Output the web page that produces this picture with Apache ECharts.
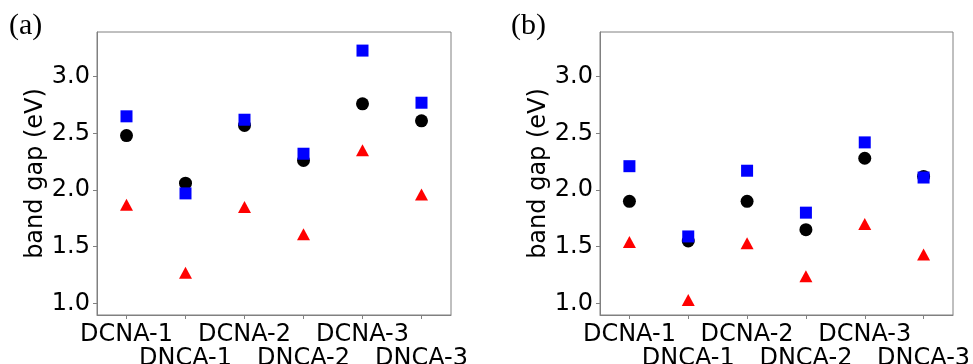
<!DOCTYPE html>
<html>
<head>
<meta charset="utf-8">
<script src="https://cdn.jsdelivr.net/npm/echarts@6/dist/echarts.min.js"></script>
<style>
html,body{margin:0;padding:0;background:#fff;}
#chart{width:973px;height:364px;}
</style>
</head>
<body>
<div id="chart"></div>
<script>
var categories = ['DCNA-1','DNCA-1','DCNA-2','DNCA-2','DCNA-3','DNCA-3'];
var yTicks = [1.0, 1.5, 2.0, 2.5, 3.0];
var panelLabels = ['(a)', '(b)'];
var yName = 'band gap (eV)';
// panel (a)
var aSquare   = [2.65, 1.97, 2.62, 2.32, 3.23, 2.77];
var aCircle   = [2.48, 2.06, 2.57, 2.26, 2.76, 2.61];
var aTriangle = [1.87, 1.27, 1.85, 1.61, 2.35, 1.96];
// panel (b)
var bSquare   = [2.21, 1.59, 2.17, 1.80, 2.42, 2.11];
var bCircle   = [1.90, 1.55, 1.90, 1.65, 2.28, 2.12];
var bTriangle = [1.54, 1.03, 1.53, 1.24, 1.70, 1.43];

var FONT = 'DejaVu Sans';
var FRAME = '#808080';
var grids = [
  {left: 97, top: 32, width: 354, height: 283},
  {left: 600, top: 32, width: 353, height: 283}
];

function xAxis(i){
  return {
    type: 'category', gridIndex: i, data: categories, boundaryGap: true,
    axisLine: {show: true, lineStyle: {color: FRAME, width: 1}},
    axisTick: {show: true, alignWithLabel: true, length: 4, interval: 0, lineStyle: {color: FRAME}},
    axisLabel: {
      interval: 0, margin: 8, color: '#000', fontFamily: FONT, fontSize: 24, lineHeight: 24,
      hideOverlap: false,
      formatter: function(v, idx){ return idx % 2 ? '\n' + v : v; }
    },
    splitLine: {show: false}
  };
}
function yAxis(i){
  return {
    type: 'value', gridIndex: i, min: 0.897, max: 3.394,
    name: yName, nameLocation: 'middle', nameGap: 48,
    nameTextStyle: {color: '#000', fontFamily: FONT, fontSize: 24},
    axisLine: {show: true, lineStyle: {color: FRAME, width: 1}},
    axisTick: {show: true, length: 4, lineStyle: {color: FRAME}, customValues: yTicks},
    axisLabel: {
      margin: 7, color: '#000', fontFamily: FONT, fontSize: 24, customValues: yTicks,
      formatter: function(v){ return v.toFixed(1); }
    },
    splitLine: {show: false}
  };
}
function ser(i, data, symbol, size, color){
  return {
    type: 'scatter', xAxisIndex: i, yAxisIndex: i,
    data: data.map(function(v, k){ return [categories[k], v]; }),
    symbol: symbol, symbolSize: size,
    itemStyle: {color: color, opacity: 1},
    emphasis: {disabled: true}, silent: true
  };
}

var chart = echarts.init(document.getElementById('chart'), null, {renderer: 'canvas'});
chart.setOption({
  animation: false,
  backgroundColor: '#fff',
  title: [
    {text: panelLabels[0], left: 9, top: 11, padding: 0,
     textStyle: {fontFamily: 'Liberation Serif', fontSize: 30, fontWeight: 'normal', color: '#000'}},
    {text: panelLabels[1], left: 511, top: 11, padding: 0,
     textStyle: {fontFamily: 'Liberation Serif', fontSize: 30, fontWeight: 'normal', color: '#000'}}
  ],
  grid: grids.map(function(g){
    return Object.assign({show: true, borderColor: FRAME, borderWidth: 1, backgroundColor: 'transparent',
      containLabel: false, outerBoundsMode: 'none'}, g);
  }),
  xAxis: [xAxis(0), xAxis(1)],
  yAxis: [yAxis(0), yAxis(1)],
  series: [
    ser(0, aTriangle, 'triangle', [13, 12], '#ff0000'),
    ser(0, aCircle, 'circle', 13, '#000000'),
    ser(0, aSquare, 'rect', 12, '#0000ff'),
    ser(1, bTriangle, 'triangle', [13, 12], '#ff0000'),
    ser(1, bCircle, 'circle', 13, '#000000'),
    ser(1, bSquare, 'rect', 12, '#0000ff')
  ]
});
</script>
</body>
</html>
